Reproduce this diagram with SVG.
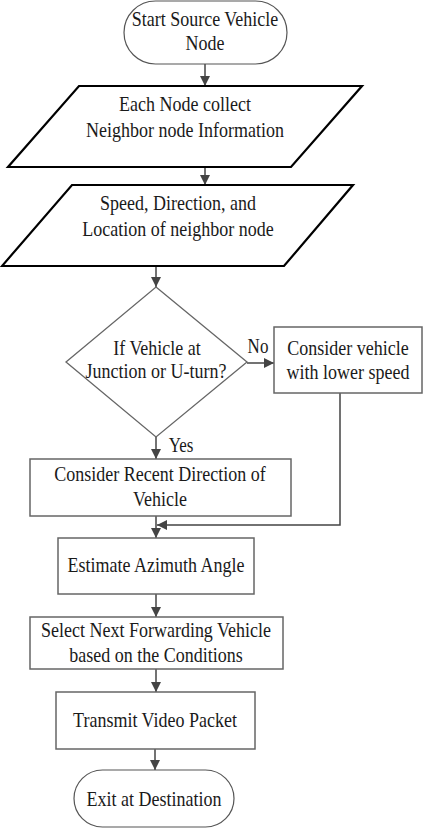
<svg xmlns="http://www.w3.org/2000/svg" width="425" height="834" viewBox="0 0 425 834">
<style>
text{font-family:"Liberation Serif","Times New Roman",serif;font-size:18px;fill:#1a1a1a;text-anchor:middle}
.term{fill:#fff;stroke:#555;stroke-width:1.2}
.para{fill:#fff;stroke:#000;stroke-width:2.2}
.box{fill:#fff;stroke:#666;stroke-width:1.5}
.dia{fill:#fff;stroke:#666;stroke-width:1.3}
.conn{fill:none;stroke:#444;stroke-width:1.5}
.lbl{font-size:17px}
</style>
<defs>
<marker id="ah" markerUnits="userSpaceOnUse" markerWidth="10" markerHeight="10" refX="10" refY="5" orient="auto" viewBox="0 0 10 10">
<path d="M0,0 L10,5 L0,10 z" fill="#444"/>
</marker>
</defs>
<g id="connectors">
<line class="conn" x1="205" y1="64" x2="205" y2="86" marker-end="url(#ah)"/>
<line class="conn" x1="205" y1="167" x2="205" y2="185" marker-end="url(#ah)"/>
<line class="conn" x1="156" y1="266" x2="156" y2="287" marker-end="url(#ah)"/>
<line class="conn" x1="247" y1="363" x2="274" y2="363" marker-end="url(#ah)"/>
<line class="conn" x1="156" y1="437" x2="156" y2="459" marker-end="url(#ah)"/>
<line class="conn" x1="156" y1="516" x2="156" y2="538" marker-end="url(#ah)"/>
<polyline class="conn" points="340,393 340,525 157,525" marker-end="url(#ah)"/>
<line class="conn" x1="156" y1="594" x2="156" y2="617" marker-end="url(#ah)"/>
<line class="conn" x1="156" y1="669" x2="156" y2="692" marker-end="url(#ah)"/>
<line class="conn" x1="155" y1="749" x2="155" y2="770" marker-end="url(#ah)"/>
<text class="lbl" transform="matrix(1,0,0,1.18,258,353)">No</text>
<text class="lbl" transform="matrix(1,0,0,1.18,181,452)">Yes</text>
</g>
<g id="start">
<rect class="term" x="124" y="1" width="163" height="63" rx="31.5" ry="31.5"/>
<text transform="matrix(1,0,0,1.18,205,26)">Start Source Vehicle</text>
<text transform="matrix(1,0,0,1.18,205,50)">Node</text>
</g>
<g id="collect">
<polygon class="para" points="79,86 362,86 291,167 8,167"/>
<text transform="matrix(1,0,0,1.18,185,111)">Each Node collect</text>
<text transform="matrix(1,0,0,1.18,185,137)">Neighbor node Information</text>
</g>
<g id="speed">
<polygon class="para" points="72,185 353,185 284,266 2,266"/>
<text transform="matrix(1,0,0,1.18,178,210)">Speed, Direction, and</text>
<text transform="matrix(1,0,0,1.18,178,236)">Location of neighbor node</text>
</g>
<g id="decision">
<polygon class="dia" points="156,287 247,362 156,437 66,362"/>
<text transform="matrix(1,0,0,1.18,157,355)">If Vehicle at</text>
<text transform="matrix(1,0,0,1.18,156,378)">Junction or U-turn?</text>
</g>
<g id="lowerspeed">
<rect class="box" x="274" y="327" width="148" height="66"/>
<text transform="matrix(1,0,0,1.18,348,355)">Consider vehicle</text>
<text transform="matrix(1,0,0,1.18,348,379)">with lower speed</text>
</g>
<g id="recent">
<rect class="box" x="30" y="459" width="261" height="57"/>
<text transform="matrix(1,0,0,1.18,160,481)">Consider Recent Direction of</text>
<text transform="matrix(1,0,0,1.18,160,506)">Vehicle</text>
</g>
<g id="azimuth">
<rect class="box" x="58" y="538" width="196" height="56"/>
<text transform="matrix(1,0,0,1.18,156,572)">Estimate Azimuth Angle</text>
</g>
<g id="select">
<rect class="box" x="30" y="617" width="253" height="52"/>
<text transform="matrix(1,0,0,1.18,156,637)">Select Next Forwarding Vehicle</text>
<text transform="matrix(1,0,0,1.18,156,662)">based on the Conditions</text>
</g>
<g id="transmit">
<rect class="box" x="56" y="692" width="199" height="57"/>
<text transform="matrix(1,0,0,1.18,155,727)">Transmit Video Packet</text>
</g>
<g id="exit">
<rect class="term" x="74" y="770" width="160" height="57" rx="28.5" ry="28.5"/>
<text transform="matrix(1,0,0,1.18,154,806)">Exit at Destination</text>
</g>
</svg>
